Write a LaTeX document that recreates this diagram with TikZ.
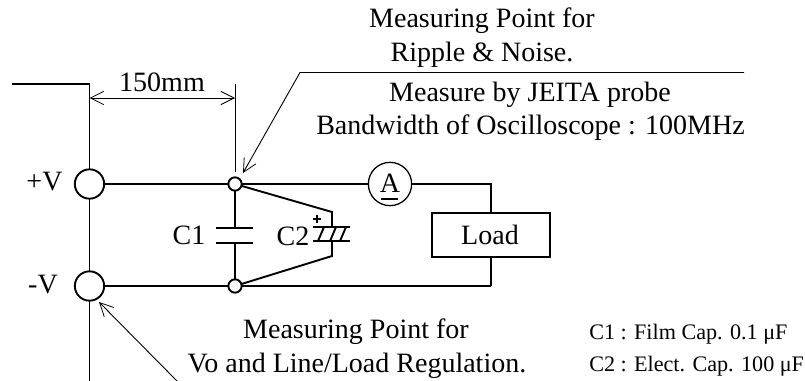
\documentclass[tikz,border=0pt]{standalone}
\usepackage{fontspec}
\setmainfont{Liberation Serif}
\usetikzlibrary{arrows.meta}
\tikzset{
  wire/.style={line width=1.9pt*0.75},
  thin wire/.style={line width=1.3pt*0.75},
  leader/.style={line width=0.9pt*0.75},
  openhead/.style={-{Straight Barb[length=10pt,width=10pt,line width=0.6pt]}},
  dimhead/.style={{Straight Barb[length=10pt,width=10pt,line width=0.6pt]}-{Straight Barb[length=10pt,width=10pt,line width=0.6pt]}},
  terminal/.style={circle,draw,wire,fill=white,inner sep=0pt,minimum size=22pt},
  junction/.style={circle,draw,wire,fill=white,inner sep=0pt,minimum size=10pt},
  lbl/.style={inner sep=0pt,anchor=base,font=\fontsize{21pt}{23pt}\selectfont},
  lblsmall/.style={inner sep=0pt,font=\fontsize{16.6pt}{18pt}\selectfont,anchor=base west},
}
\begin{document}
\begin{tikzpicture}[x=0.75pt,y=-0.75pt]
\useasboundingbox (0,0) rectangle (805,381);
\coordinate (supplyEnd) at (12,84);
\coordinate (supplyCorner) at (89.5,84);
\coordinate (railEnd) at (89.5,381);
\coordinate (amCorner) at (491,184);
\coordinate (loadCorner) at (491,286);
\coordinate (c1a) at (235,228);
\coordinate (c1b) at (235,243);
\coordinate (c2t) at (332,212);
\coordinate (c2b) at (332,256);
\draw[wire] (supplyEnd) -- (supplyCorner) -- (89.5,184) -- (railEnd);
\draw[wire] (89.5,286) -- (loadCorner);
\draw[thin wire] (89.5,184) -- (390,184);
\node[terminal] (pv) at (89.5,184) {};
\node[terminal] (mv) at (89.5,286) {};
\node[draw,thin wire,fill=white,inner sep=0pt,minimum width=88.5pt,minimum height=33pt] (load) at (491,235) {};
\node[circle,draw,thin wire,fill=white,inner sep=0pt,minimum size=32.5pt] (am) at (390,184) {};
\draw[thin wire] (am) -- (amCorner) -- (load.north);
\draw[thin wire] (load.south) -- (loadCorner);
% C1
\draw[wire] (235,184) -- (c1a);
\draw[wire] (c1b) -- (235,286);
\draw[wire] (216,228) -- (253,228);
\draw[wire] (216,243) -- (253,243);
% C2
\draw[wire] (235,184) -- (c2t) -- (332,227);
\draw[wire] (235,286) -- (c2b) -- (332,241);
\draw[wire] (313,227) -- (350,227);
\draw[wire] (313,241) -- (350,241);
\draw[wire] (318,241) -- (324,227);
\draw[wire] (330,241) -- (336,227);
\draw[wire] (340,241) -- (346,227);
\draw[wire] (313,219) -- (321,219);
\draw[wire] (317,215) -- (317,223);
\node[junction] (jt) at (235,184) {};
\node[junction] (jb) at (235,286) {};
% dimension
\coordinate (dimL) at (89.5,98);
\coordinate (dimR) at (235,98);
\draw[leader,dimhead] (dimL) -- (dimR);
\draw[leader] (235,84) -- (235,172);
% leaders
\coordinate (lead1) at (744,72.5);
\coordinate (lead1b) at (300,72.5);
\coordinate (lead1t) at (243,173);
\draw[leader,openhead] (lead1) -- (lead1b) -- (lead1t);
\coordinate (lead2) at (177,381);
\coordinate (lead2t) at (99,302);
\draw[leader,openhead] (lead2) -- (lead2t);
% labels
\node[lbl] (t150) at (162,92) {150mm};
\node[lbl] (tpv) at (44.5,190) {+V};
\node[lbl] (tmv) at (43,293) {-V};
\node[lbl] (tc1) at (189,244) {C1};
\node[lbl] (tc2) at (293,245) {C2};
\node[lbl] (ta) at (390,192) {A};
\node[lbl] (tload) at (490,244) {Load};
\draw[thin wire] (381,199) -- (398,199);
\node[lbl] (m1) at (482,28) {Measuring Point for};
\node[lbl] (m2) at (482,62) {Ripple \& Noise.};
\node[lbl] (m3) at (530,102) {Measure by JEITA probe};
\node[lbl] (m4) at (530.5,134) {Bandwidth of Oscilloscope : 100MHz};
\node[lbl] (b1) at (356,338) {Measuring Point for};
\node[lbl] (b2) at (357,372) {Vo and Line/Load Regulation.};
\node[lblsmall] (n1) at (589,339) {C1 : Film Cap. 0.1 μF};
\node[lblsmall] (n2) at (589,371) {C2 : Elect. Cap. 100 μF};
\end{tikzpicture}
\end{document}
